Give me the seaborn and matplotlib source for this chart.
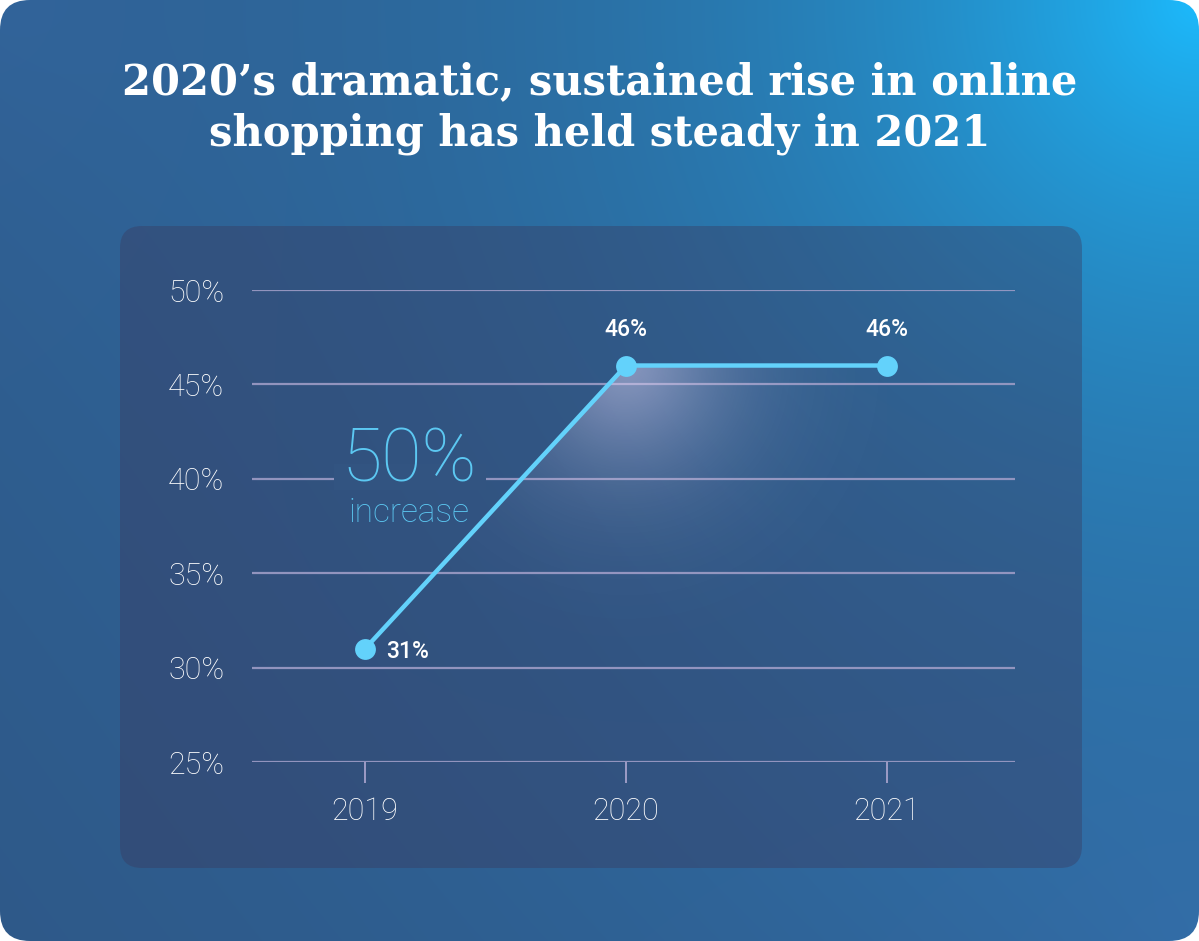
import numpy as np
import pandas as pd
import matplotlib
matplotlib.use("Agg")
import matplotlib.pyplot as plt
from matplotlib.patches import FancyBboxPatch, Rectangle
import seaborn as sns

# ---------------- data ----------------
years = [2019, 2020, 2021]
share = [31, 46, 46]
value_labels = ["31%", "46%", "46%"]
y_ticks = [25, 30, 35, 40, 45, 50]
y_tick_labels = ["25%", "30%", "35%", "40%", "45%", "50%"]
title = "2020\u2019s dramatic, sustained rise in online\nshopping has held steady in 2021"
callout_big = "50%"
callout_small = "increase"

sns.set_theme(style="white")
plt.rcParams["font.family"] = ["Roboto", "DejaVu Sans"]

W, H = 1199, 941
fig = plt.figure(figsize=(W / 100, H / 100), dpi=100, facecolor="white")

# ---------------- background gradient card ----------------
def bg_rgb(px, py):
    # px, py in pixel coords (py measured from the top)
    base = np.array([0.180, 0.330, 0.510])
    bright = np.array([0.110, 0.730, 0.990])
    mid = np.array([0.240, 0.430, 0.690])
    d = np.sqrt((W - px) ** 2 + (py) ** 2)
    w = np.exp(-d / 450.0)
    d2 = np.sqrt((W - px) ** 2 + (H - py) ** 2)
    w2 = 0.55 * np.exp(-d2 / 500.0)
    d3 = np.sqrt(px ** 2 + py ** 2)
    w3 = 0.35 * np.exp(-d3 / 350.0)
    col = base[None, None, :] * np.ones(np.shape(px) + (1,))
    col = col * (1 - w2[..., None]) + mid * w2[..., None]
    col = col * (1 - w3[..., None]) + mid * w3[..., None]
    col = col * (1 - w[..., None]) + bright * w[..., None]
    return col

yy, xx = np.mgrid[0:H, 0:W].astype(float)
img = bg_rgb(xx, yy)

bg = fig.add_axes([0, 0, 1, 1])
bg.axis("off")
card = FancyBboxPatch((0, 0), W, H, boxstyle="round,pad=0,rounding_size=30",
                      facecolor="none", edgecolor="none", transform=bg.transData)
bg.add_patch(card)
im = bg.imshow(img, extent=[0, W, 0, H], origin="upper", aspect="auto", zorder=0)
im.set_clip_path(card)
bg.set_xlim(0, W)
bg.set_ylim(0, H)

panel_rgb = np.array([58, 56, 92]) / 255.0
panel_alpha = 0.38
panel = FancyBboxPatch((120, H - 868), 962, 642, boxstyle="round,pad=0,rounding_size=22",
                       facecolor=panel_rgb, edgecolor="none", alpha=panel_alpha, zorder=1)
bg.add_patch(panel)

# title
bg.text(W / 2, H - 108, title, ha="center", va="center", color="white",
        fontsize=30, fontweight="bold", family=["DejaVu Serif"],
        linespacing=1.3, zorder=3)

# ---------------- chart axes ----------------
ax = fig.add_axes([252 / W, 179 / H, 763 / W, 472 / H])
ax.patch.set_alpha(0)

df = pd.DataFrame({"year": years, "share": share})
line_col = "#63d2fb"
sns.lineplot(data=df, x="year", y="share", ax=ax, color=line_col, linewidth=3.2,
             marker="o", markersize=15, markeredgewidth=0, zorder=5, clip_on=False)

XL = (2018.567, 2021.49)
ax.set_xlim(*XL)
ax.set_ylim(25, 50)

# glow under the 2020 point
poly = ax.fill_between(years, share, 25, color="none", linewidth=0)
gx = np.linspace(XL[0], XL[1], 400)
gy = np.linspace(25, 50, 400)
GX, GY = np.meshgrid(gx, gy)
dpx = (GX - years[1]) * 261.0
dpy = (GY - share[1]) * 18.88
dist = np.sqrt(dpx ** 2 + dpy ** 2)
alpha = 0.50 * np.exp(-(dist / 105.0) ** 1.5)
glow = np.zeros(GX.shape + (4,))
glow[..., 0] = 0.86
glow[..., 1] = 0.82
glow[..., 2] = 0.95
glow[..., 3] = alpha
gim = ax.imshow(glow, extent=[gx[0], gx[-1], gy[0], gy[-1]], origin="lower",
                aspect="auto", zorder=2, interpolation="bilinear")
gim.set_clip_path(poly.get_paths()[0], transform=ax.transData)
ax.set_xlim(*XL)
ax.set_ylim(25, 50)

grid_col = "#9d9cc6"
ax.set_yticks(y_ticks)
ax.set_yticklabels(y_tick_labels)
ax.set_xticks(years)
ax.set_xticklabels([str(y) for y in years])
ax.grid(axis="y", color=grid_col, linewidth=1.6, alpha=0.9, zorder=1)
ax.grid(axis="x", visible=False)
ax.set_axisbelow(True)
for s in ax.spines.values():
    s.set_visible(False)
ax.tick_params(axis="y", length=0, pad=20, labelsize=22, labelcolor="white")
ax.tick_params(axis="x", length=15, width=1.4, color=grid_col, pad=10, labelsize=22,
               labelcolor="white", bottom=True)
for lab in ax.get_xticklabels() + ax.get_yticklabels():
    lab.set_fontweight("light")
ax.set_xlabel("")
ax.set_ylabel("")

# value labels
for i, (x, y, t) in enumerate(zip(years, share, value_labels)):
    if i == 0:
        ax.annotate(t, (x, y), xytext=(15, -2), textcoords="offset points", ha="left",
                    va="center", color="white", fontsize=16.5, fontweight="medium", zorder=6)
    else:
        ax.annotate(t, (x, y), xytext=(0, 26), textcoords="offset points", ha="center",
                    va="center", color="white", fontsize=16.5, fontweight="medium", zorder=6)

# callout, with a patch of local panel colour hiding the gridline behind it
bgc = bg_rgb(np.array([[410.0]]), np.array([[478.0]]))[0, 0]
boxc = panel_alpha * panel_rgb + (1 - panel_alpha) * bgc
ax.add_patch(Rectangle((334, H - 490), 152, 26, facecolor=boxc, edgecolor="none",
                       transform=bg.transData, clip_on=False, zorder=3))
callout_col = "#5cc8f2"
ax.text(2019.17, 39.85, callout_big, ha="center", va="baseline", color=callout_col,
        fontsize=53, fontweight="light", zorder=4)
ax.text(2019.17, 37.7, callout_small, ha="center", va="baseline", color=callout_col,
        fontsize=24, fontweight="light", zorder=4)

fig.savefig("out.png", dpi=100, facecolor="white")
